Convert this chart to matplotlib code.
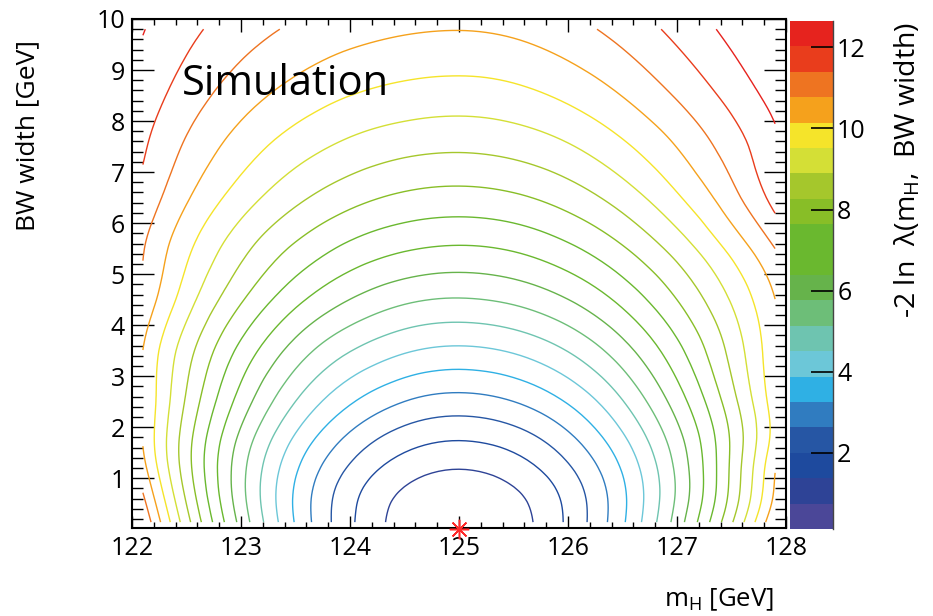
import numpy as np
import matplotlib
matplotlib.use("Agg")
import matplotlib.pyplot as plt
import matplotlib.tri as mtri
from matplotlib.colors import ListedColormap, BoundaryNorm
from matplotlib.cm import ScalarMappable
from matplotlib.ticker import MultipleLocator

plt.rcParams['font.family'] = ['Open Sans', 'DejaVu Sans']
plt.rcParams['mathtext.default'] = 'regular'

# -2 ln lambda: rows = BW width, columns = m_H
m_h = [122.1, 122.5, 123.0, 123.5, 124.0, 124.5, 125.0, 125.5, 126.0, 126.5, 127.0, 127.5, 127.9]
bw_width = [0.14, 0.6, 1.2, 1.8, 2.5, 3.5, 4.5, 5.5, 6.5, 7.5, 8.5, 9.8]
nll = [
    [11.31, 8.51, 5.55, 3.20, 1.49, 0.47, 0.12, 0.46, 1.49, 3.15, 5.41, 8.19, 10.72],
    [10.88, 8.19, 5.36, 3.15, 1.56, 0.60, 0.28, 0.60, 1.55, 3.11, 5.23, 7.86, 10.29],
    [10.36, 7.91, 5.35, 3.35, 1.92, 1.06, 0.77, 1.06, 1.91, 3.32, 5.27, 7.76, 10.11],
    [10.11, 7.92, 5.61, 3.80, 2.50, 1.71, 1.45, 1.71, 2.49, 3.78, 5.54, 7.73, 9.78],
    [10.12, 8.18, 6.12, 4.50, 3.33, 2.62, 2.38, 2.62, 3.31, 4.47, 6.05, 8.02, 9.87],
    [10.14, 8.53, 6.83, 5.49, 4.53, 3.95, 3.75, 3.95, 4.53, 5.50, 6.82, 8.46, 9.97],
    [10.60, 9.18, 7.71, 6.56, 5.75, 5.25, 5.09, 5.26, 5.75, 6.56, 7.64, 8.95, 10.14],
    [10.81, 9.66, 8.46, 7.52, 6.85, 6.45, 6.31, 6.45, 6.88, 7.57, 8.51, 9.69, 10.77],
    [11.20, 10.22, 9.21, 8.42, 7.86, 7.52, 7.41, 7.54, 7.92, 8.55, 9.43, 10.55, 11.62],
    [11.48, 10.68, 9.85, 9.20, 8.74, 8.46, 8.37, 8.49, 8.83, 9.40, 10.16, 11.08, 11.90],
    [11.74, 11.10, 10.42, 9.90, 9.52, 9.30, 9.22, 9.33, 9.65, 10.16, 10.83, 11.60, 12.25],
    [12.05, 11.57, 11.06, 10.67, 10.39, 10.22, 10.16, 10.26, 10.55, 11.00, 11.57, 12.20, 12.68],
]
best_fit_mh = 125.0
best_fit_width = 0.0

# palette range and the 20 colour bands (bottom to top)
z_min, z_max = 0.12, 12.65
band_colors = ['#4b4798', '#2e4396', '#1e4a9e', '#2656a4', '#307cc0',
               '#2fb0e4', '#6cc7d8', '#6ec4b0', '#6dbe78', '#66b34b',
               '#6ab82f', '#6ab82f', '#88be27', '#a5c72c', '#d4df36',
               '#f5e42a', '#f5a11c', '#ee7421', '#e93d1c', '#e6231e']
cbar_ticks = [2, 4, 6, 8, 10, 12]

levels = np.linspace(z_min, z_max, len(band_colors) + 1)

fig = plt.figure(figsize=(9.33, 6.16), dpi=100)
ax = fig.add_axes([132 / 933, 88 / 616, 654 / 933, 509 / 616])

X, Y = np.meshgrid(m_h, bw_width)
tri = mtri.Triangulation(X.ravel(), Y.ravel())
refiner = mtri.UniformTriRefiner(tri)
tri_fine, z_fine = refiner.refine_field(np.array(nll).ravel(), subdiv=3)
ax.tricontour(tri_fine, z_fine, levels=levels[1:-1], colors=band_colors[1:],
              linewidths=1.0)

ax.plot([best_fit_mh], [best_fit_width], marker=(8, 2, 0), ms=14, mew=1.1,
        color='#ff2a2a', clip_on=False, zorder=5)

ax.set_xlim(122, 128)
ax.set_ylim(0.025, 10)
ax.xaxis.set_major_locator(MultipleLocator(1))
ax.xaxis.set_minor_locator(MultipleLocator(0.2))
ax.yaxis.set_major_locator(MultipleLocator(1))
ax.yaxis.set_minor_locator(MultipleLocator(0.2))
ax.tick_params(which='both', direction='in', top=True, right=True,
               labelsize=18, width=1.0, color='black')
ax.tick_params(axis='x', which='major', length=9, pad=6)
ax.tick_params(axis='x', which='minor', length=4.5)
ax.tick_params(axis='y', which='major', length=15.8, pad=5)
ax.tick_params(axis='y', which='minor', length=7.9)
for s in ax.spines.values():
    s.set_linewidth(1.5)

ax.text(0.076, 0.85, 'Simulation', transform=ax.transAxes, fontsize=30,
        va='baseline', ha='left')

fig.text(28 / 933, 1 - 40 / 616, 'BW width [GeV]', rotation=90,
         ha='center', va='top', fontsize=19)
fig.text(774 / 933, 1 - 600 / 616, r'm$_{H}$ [GeV]', ha='right',
         va='center', fontsize=18.5)

# palette
cax = fig.add_axes([790 / 933, 87 / 616, 43 / 933, 508 / 616])
sm = ScalarMappable(norm=BoundaryNorm(levels, len(band_colors)),
                    cmap=ListedColormap(band_colors))
cb = fig.colorbar(sm, cax=cax, ticks=cbar_ticks)
cb.outline.set_visible(False)
cax.plot([1, 1], [0, 1], transform=cax.transAxes, color='#444444', lw=1.0,
         clip_on=False)
cax.tick_params(direction='in', length=15.6, width=1.2, labelsize=18, pad=3,
                color='black')
cax.minorticks_off()
fig.text(908 / 933, 1 - 22 / 616, r'-2 ln  $\lambda$(m$_{H}$,  BW width)',
         rotation=90, ha='center', va='top', fontsize=20.5)

fig.savefig('out.png', dpi=100)
